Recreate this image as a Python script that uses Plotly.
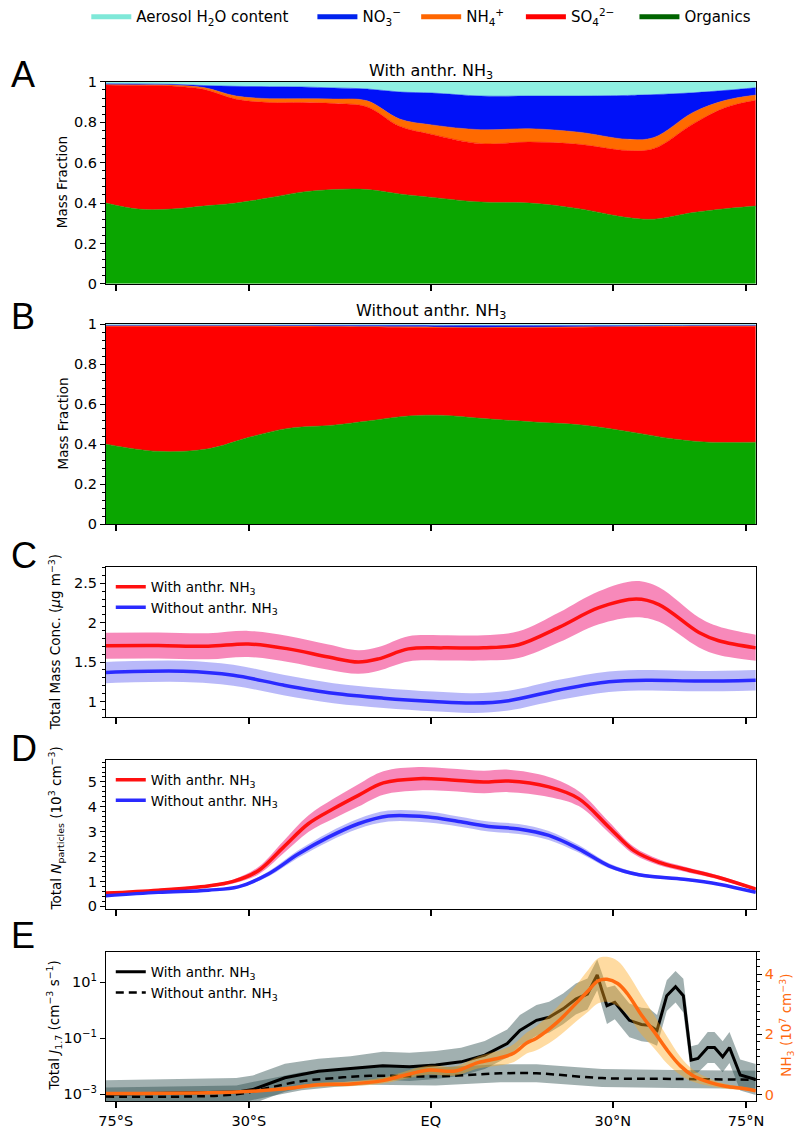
import plotly.graph_objects as go

W, H = 802, 1133

# ---------------- axis ticks (normalised position along the latitude axis) ----------------
xtick_vals = [-0.97, -0.56, 0.0, 0.56, 0.97]
xtick_text = ["75°S", "30°S", "EQ", "30°N", "75°N"]

# ---------------- Panel A : with anthropogenic NH3 (mass fractions) ----------------
xA = [-1.0, -0.901, -0.798, -0.699, -0.599, -0.497, -0.398, -0.298, -0.196, -0.096,
      0.003, 0.154, 0.304, 0.455, 0.605, 0.687, 0.807, 0.907, 1.0]
A_org = [0.400, 0.370, 0.370, 0.385, 0.400, 0.426, 0.454, 0.467, 0.467, 0.445,
         0.428, 0.405, 0.400, 0.372, 0.328, 0.320, 0.353, 0.372, 0.385]
A_so4 = [0.584, 0.612, 0.610, 0.578, 0.514, 0.472, 0.444, 0.426, 0.409, 0.335,
         0.312, 0.289, 0.302, 0.319, 0.332, 0.350, 0.439, 0.501, 0.524]
A_nh4 = [0.003, 0.004, 0.005, 0.009, 0.016, 0.019, 0.019, 0.022, 0.030, 0.036,
         0.047, 0.069, 0.066, 0.060, 0.056, 0.055, 0.057, 0.036, 0.026]
A_no3 = [0.004, 0.004, 0.003, 0.010, 0.048, 0.059, 0.058, 0.055, 0.059, 0.134,
         0.158, 0.167, 0.162, 0.179, 0.217, 0.212, 0.097, 0.049, 0.036]
A_h2o = [0.009, 0.010, 0.012, 0.018, 0.022, 0.024, 0.025, 0.030, 0.035, 0.050,
         0.055, 0.070, 0.070, 0.070, 0.067, 0.063, 0.054, 0.042, 0.029]

# ---------------- Panel B : without anthropogenic NH3 ----------------
xB = [-1.0, -0.840, -0.684, -0.560, -0.440, -0.301, -0.193, -0.069, 0.039, 0.163,
      0.316, 0.470, 0.623, 0.747, 0.855, 1.0]
B_org = [0.400, 0.364, 0.377, 0.434, 0.479, 0.495, 0.516, 0.541, 0.544, 0.528,
         0.511, 0.495, 0.459, 0.426, 0.410, 0.410]
B_so4 = [0.590, 0.626, 0.613, 0.556, 0.510, 0.493, 0.470, 0.443, 0.438, 0.453,
         0.471, 0.490, 0.528, 0.563, 0.580, 0.580]
B_nh4 = [0.002, 0.002, 0.002, 0.002, 0.002, 0.002, 0.003, 0.003, 0.003, 0.003,
         0.003, 0.002, 0.002, 0.002, 0.002, 0.002]
B_no3 = [0.003, 0.003, 0.003, 0.003, 0.004, 0.005, 0.006, 0.008, 0.009, 0.009,
         0.008, 0.006, 0.004, 0.003, 0.003, 0.003]
B_h2o = [0.005, 0.005, 0.005, 0.005, 0.005, 0.005, 0.005, 0.005, 0.006, 0.007,
         0.007, 0.007, 0.007, 0.006, 0.005, 0.005]

# ---------------- Panel C : total mass concentration (ug m-3) ----------------
xC_with = [-1.0, -0.839, -0.685, -0.562, -0.439, -0.315, -0.223, -0.161, -0.069, 0.039,
           0.162, 0.270, 0.394, 0.517, 0.632, 0.702, 0.825, 0.886, 1.0]
C_with = [1.708, 1.710, 1.700, 1.730, 1.667, 1.563, 1.500, 1.540, 1.667, 1.680,
          1.680, 1.720, 1.940, 2.190, 2.300, 2.230, 1.875, 1.770, 1.680]
C_with_err = [0.165, 0.165, 0.165, 0.165, 0.165, 0.160, 0.150, 0.150, 0.160, 0.160,
              0.160, 0.170, 0.190, 0.210, 0.230, 0.220, 0.190, 0.180, 0.165]
xC_wo = [-1.0, -0.762, -0.608, -0.454, -0.300, -0.146, 0.008, 0.132, 0.239, 0.394,
         0.548, 0.671, 0.825, 1.0]
C_wo = [1.367, 1.383, 1.333, 1.208, 1.104, 1.042, 1.000, 0.980, 1.010, 1.146,
        1.250, 1.270, 1.258, 1.270]
C_wo_err = [0.135, 0.135, 0.133, 0.130, 0.128, 0.125, 0.125, 0.125, 0.125, 0.128,
            0.130, 0.130, 0.130, 0.130]

# ---------------- Panel D : total particle number (10^3 cm-3) ----------------
xD_with = [-1.0, -0.839, -0.685, -0.608, -0.531, -0.454, -0.377, -0.300, -0.223, -0.146,
           -0.038, 0.055, 0.162, 0.239, 0.363, 0.455, 0.548, 0.625, 0.702, 0.779, 0.886, 1.0]
D_with = [0.53, 0.65, 0.82, 1.00, 1.43, 2.37, 3.32, 3.92, 4.46, 4.96,
          5.13, 5.09, 5.00, 5.04, 4.80, 4.33, 3.18, 2.24, 1.77, 1.50, 1.16, 0.69]
D_with_err = [0.05, 0.05, 0.06, 0.08, 0.15, 0.25, 0.33, 0.40, 0.45, 0.47,
              0.47, 0.45, 0.45, 0.45, 0.40, 0.30, 0.22, 0.15, 0.12, 0.10, 0.08, 0.05]
xD_wo = [-1.0, -0.839, -0.685, -0.593, -0.500, -0.408, -0.315, -0.223, -0.131, -0.008,
         0.085, 0.178, 0.270, 0.363, 0.455, 0.548, 0.640, 0.779, 0.886, 1.0]
D_wo = [0.42, 0.56, 0.65, 0.78, 1.30, 2.10, 2.78, 3.32, 3.63, 3.59,
        3.41, 3.21, 3.11, 2.85, 2.31, 1.63, 1.27, 1.09, 0.89, 0.56]
D_wo_err = [0.03, 0.03, 0.04, 0.05, 0.10, 0.15, 0.18, 0.20, 0.22, 0.22,
            0.20, 0.20, 0.20, 0.18, 0.15, 0.10, 0.07, 0.05, 0.04, 0.03]

# ---------------- Panel E : nucleation rate J1.7 (log10 cm-3 s-1) and NH3 ----------------
xE_with = [-1.0, -0.798, -0.599, -0.548, -0.449, -0.346, -0.247, -0.148, -0.066, 0.015,
           0.093, 0.166, 0.235, 0.274, 0.325, 0.364, 0.407, 0.446, 0.482, 0.512,
           0.527, 0.542, 0.566, 0.587, 0.611, 0.648, 0.672, 0.696, 0.726, 0.753,
           0.777, 0.801, 0.822, 0.852, 0.873, 0.898, 0.919, 0.952, 0.994, 1.0]
E_with_log = [-3.00, -2.96, -2.92, -2.83, -2.41, -2.18, -2.09, -1.98, -2.02, -1.95,
              -1.84, -1.60, -1.19, -0.72, -0.36, -0.25, 0.05, 0.40, 0.58, 1.26,
              0.69, 0.16, 0.28, -0.01, -0.36, -0.51, -0.54, -0.72, 0.52, 0.84,
              0.52, -1.78, -1.72, -1.33, -1.33, -1.66, -1.33, -2.31, -2.46, -2.47]
E_with_spread = [0.50, 0.50, 0.50, 0.50, 0.50, 0.45, 0.45, 0.50, 0.50, 0.50,
                 0.50, 0.50, 0.50, 0.55, 0.55, 0.55, 0.55, 0.55, 0.55, 0.55,
                 0.60, 0.65, 0.60, 0.60, 0.60, 0.60, 0.60, 0.55, 0.55, 0.56,
                 0.60, 0.50, 0.50, 0.55, 0.55, 0.55, 0.55, 0.55, 0.55, 0.55]
xE_wo = [-1.0, -0.599, -0.497, -0.398, -0.298, -0.187, 0.015, 0.214, 0.325, 0.527, 0.747, 1.0]
E_wo_log = [-3.08, -3.00, -2.76, -2.53, -2.42, -2.34, -2.36, -2.25, -2.25, -2.42, -2.45, -2.48]
E_wo_spread = [0.32, 0.32, 0.32, 0.32, 0.32, 0.32, 0.32, 0.32, 0.32, 0.32, 0.32, 0.32]
xE_nh3 = [-1.0, -0.599, -0.449, -0.346, -0.247, -0.148, -0.087, -0.006, 0.075, 0.145,
          0.214, 0.256, 0.295, 0.325, 0.386, 0.446, 0.485, 0.515, 0.542, 0.575,
          0.605, 0.648, 0.687, 0.726, 0.768, 0.807, 0.858, 0.907, 0.967, 1.0]
E_nh3 = [0.03, 0.08, 0.19, 0.32, 0.35, 0.46, 0.62, 0.81, 0.78, 1.06,
         1.22, 1.38, 1.71, 1.87, 2.37, 3.02, 3.46, 3.78, 3.83, 3.69,
         3.35, 2.64, 2.09, 1.49, 0.95, 0.62, 0.40, 0.27, 0.19, 0.12]
E_nh3_err = [0.02, 0.03, 0.05, 0.07, 0.08, 0.10, 0.12, 0.15, 0.15, 0.20,
             0.25, 0.30, 0.35, 0.40, 0.50, 0.60, 0.70, 0.75, 0.75, 0.75,
             0.70, 0.65, 0.55, 0.45, 0.30, 0.20, 0.12, 0.08, 0.05, 0.04]

# ---------------- styles ----------------
FONT = "DejaVu Sans"
species = [  # name, fill colour, legend colour
    ("Organics", "#0aa600", "#006400"),
    ("SO<sub>4</sub><sup>2−</sup>", "#fe0000", "#ff0000"),
    ("NH<sub>4</sub><sup>+</sup>", "#ff6a00", "#ff6600"),
    ("NO<sub>3</sub><sup>−</sup>", "#0011f8", "#0022ee"),
    ("Aerosol H<sub>2</sub>O content", "#8ef0e2", "#7fe8d8"),
]
RED, BLUE = "#ff1010", "#2a2aff"
RED_BAND, BLUE_BAND = "rgba(240,40,130,0.55)", "rgba(70,70,240,0.38)"
GRAY_BAND = "rgba(47,79,79,0.45)"
NH3_COL, NH3_BAND = "#ff6a10", "rgba(255,170,30,0.42)"

fig = go.Figure()

# stacked mass fractions
for ax, xs, comps, grp in [("", xA, [A_org, A_so4, A_nh4, A_no3, A_h2o], "A"),
                           ("2", xB, [B_org, B_so4, B_nh4, B_no3, B_h2o], "B")]:
    for (name, fc, lc), vals in zip(species, comps):
        fig.add_trace(go.Scatter(x=xs, y=vals, stackgroup=grp, mode="lines",
                                 line=dict(width=0.5, color=fc, shape="spline"),
                                 fillcolor=fc, showlegend=False, hoverinfo="skip",
                                 xaxis="x" + ax, yaxis="y" + ax))

# legend-only entries for the top legend (order left -> right)
top_legend_ids = ["legend", "legend2", "legend3", "legend4", "legend5"]
for lid, (name, fc, lc) in zip(top_legend_ids, species[::-1]):
    fig.add_trace(go.Scatter(x=[None], y=[None], mode="lines", name=name,
                             line=dict(color=lc, width=5), legend=lid,
                             xaxis="x", yaxis="y"))


def band(x, y, err, color, xa, ya, shape="spline"):
    lo = [v - e for v, e in zip(y, err)]
    hi = [v + e for v, e in zip(y, err)]
    fig.add_trace(go.Scatter(x=x, y=lo, mode="lines", line=dict(width=0, shape=shape),
                             showlegend=False, hoverinfo="skip", xaxis=xa, yaxis=ya))
    fig.add_trace(go.Scatter(x=x, y=hi, mode="lines", line=dict(width=0, shape=shape),
                             fill="tonexty", fillcolor=color, showlegend=False,
                             hoverinfo="skip", xaxis=xa, yaxis=ya))


# Panel C
band(xC_with, C_with, C_with_err, RED_BAND, "x3", "y3")
band(xC_wo, C_wo, C_wo_err, BLUE_BAND, "x3", "y3")
fig.add_trace(go.Scatter(x=xC_with, y=C_with, mode="lines", name="With anthr. NH<sub>3</sub>",
                         line=dict(color=RED, width=3.5, shape="spline"), legend="legend6",
                         xaxis="x3", yaxis="y3"))
fig.add_trace(go.Scatter(x=xC_wo, y=C_wo, mode="lines", name="Without anthr. NH<sub>3</sub>",
                         line=dict(color=BLUE, width=3.5, shape="spline"), legend="legend6",
                         xaxis="x3", yaxis="y3"))

# Panel D
band(xD_with, D_with, D_with_err, RED_BAND, "x4", "y4")
band(xD_wo, D_wo, D_wo_err, BLUE_BAND, "x4", "y4")
fig.add_trace(go.Scatter(x=xD_with, y=D_with, mode="lines", name="With anthr. NH<sub>3</sub>",
                         line=dict(color=RED, width=3.5, shape="spline"), legend="legend7",
                         xaxis="x4", yaxis="y4"))
fig.add_trace(go.Scatter(x=xD_wo, y=D_wo, mode="lines", name="Without anthr. NH<sub>3</sub>",
                         line=dict(color=BLUE, width=3.5, shape="spline"), legend="legend7",
                         xaxis="x4", yaxis="y4"))

# Panel E (log J on left axis)
Jw = [10 ** v for v in E_with_log]
Jw_lo = [10 ** (v - s) for v, s in zip(E_with_log, E_with_spread)]
Jw_hi = [10 ** (v + s) for v, s in zip(E_with_log, E_with_spread)]
Jo = [10 ** v for v in E_wo_log]
Jo_lo = [10 ** (v - s) for v, s in zip(E_wo_log, E_wo_spread)]
Jo_hi = [10 ** (v + s) for v, s in zip(E_wo_log, E_wo_spread)]
for xs, lo, hi in [(xE_with, Jw_lo, Jw_hi), (xE_wo, Jo_lo, Jo_hi)]:
    fig.add_trace(go.Scatter(x=xs, y=lo, mode="lines", line=dict(width=0), showlegend=False,
                             hoverinfo="skip", xaxis="x5", yaxis="y5"))
    fig.add_trace(go.Scatter(x=xs, y=hi, mode="lines", line=dict(width=0), fill="tonexty",
                             fillcolor=GRAY_BAND, showlegend=False, hoverinfo="skip",
                             xaxis="x5", yaxis="y5"))
fig.add_trace(go.Scatter(x=xE_with, y=Jw, mode="lines", name="With anthr. NH<sub>3</sub>",
                         line=dict(color="black", width=3), legend="legend8",
                         xaxis="x5", yaxis="y5"))
fig.add_trace(go.Scatter(x=xE_wo, y=Jo, mode="lines", name="Without anthr. NH<sub>3</sub>",
                         line=dict(color="black", width=2.5, dash="8px,5px", shape="spline"),
                         legend="legend8", xaxis="x5", yaxis="y5"))
# NH3 on right axis
band(xE_nh3, E_nh3, E_nh3_err, NH3_BAND, "x5", "y6")
fig.add_trace(go.Scatter(x=xE_nh3, y=E_nh3, mode="lines", showlegend=False,
                         line=dict(color=NH3_COL, width=3.5, shape="spline"),
                         xaxis="x5", yaxis="y6"))


# ---------------- layout ----------------
def ydom(top, bot):
    return [1 - bot / H, 1 - top / H]


xdom = [100 / W, 764 / W]
tickfont = dict(family=FONT, size=14.5, color="black")


def xax(anchor, labels=False):
    return dict(domain=xdom, range=[-1, 1], anchor=anchor, tickmode="array",
                tickvals=xtick_vals, ticktext=xtick_text, showticklabels=labels,
                ticks="outside", ticklen=6, tickwidth=1.6, tickcolor="black",
                showline=True, linecolor="black", linewidth=1, mirror=True,
                showgrid=False, zeroline=False, tickfont=tickfont)


def yax(anchor, dom, rng, tickvals, ticktext, minor_dtick, **kw):
    d = dict(domain=dom, range=rng, anchor=anchor, tickmode="array", tickvals=tickvals,
             ticktext=ticktext, ticks="outside", ticklen=5, tickwidth=1.2, tickcolor="black",
             showline=True, linecolor="black", linewidth=1, mirror=True, showgrid=False,
             zeroline=False, tickfont=tickfont)
    if minor_dtick is not None:
        d["minor"] = dict(ticks="outside", ticklen=3, tickwidth=1, tickcolor="black",
                          dtick=minor_dtick, showgrid=False)
    d.update(kw)
    return d


frac_ticks = [0, 0.2, 0.4, 0.6, 0.8, 1]
frac_text = ["0", "0.2", "0.4", "0.6", "0.8", "1"]

legend_common = dict(bgcolor="rgba(0,0,0,0)", borderwidth=0,
                     font=dict(family=FONT, size=13.5, color="black"))
top_leg_x = [80, 311, 417, 524, 640]
legends = {}
for lid, xpx in zip(top_legend_ids, top_leg_x):
    legends[lid] = dict(x=xpx / W, y=1 - 8 / H, xanchor="left", yanchor="middle",
                        orientation="h", itemwidth=40, bgcolor="rgba(0,0,0,0)", borderwidth=0,
                        font=dict(family=FONT, size=15, color="black"))
legends["legend6"] = dict(x=105 / W, y=1 - 571 / H, xanchor="left", yanchor="top",
                          tracegroupgap=0, **legend_common)
legends["legend7"] = dict(x=105 / W, y=1 - 767 / H, xanchor="left", yanchor="top",
                          tracegroupgap=0, **legend_common)
legends["legend8"] = dict(x=105 / W, y=1 - 962 / H, xanchor="left", yanchor="top",
                          tracegroupgap=0, **legend_common)

fig.update_layout(
    width=W, height=H, margin=dict(l=0, r=0, t=0, b=0),
    paper_bgcolor="white", plot_bgcolor="white",
    font=dict(family=FONT, color="black"),
    xaxis=xax("y"), xaxis2=xax("y2"), xaxis3=xax("y3"), xaxis4=xax("y4"),
    xaxis5=xax("y5", labels=True),
    yaxis=yax("x", ydom(74, 279), [0, 1], frac_ticks, frac_text, 0.04),
    yaxis2=yax("x2", ydom(320, 523), [0, 1], frac_ticks, frac_text, 0.04),
    yaxis3=yax("x3", ydom(567, 719), [0.8, 2.7], [1, 1.5, 2, 2.5], ["1", "1.5", "2", "2.5"], 0.1),
    yaxis4=yax("x4", ydom(762, 914), [-0.12, 5.9], [0, 1, 2, 3, 4, 5],
               ["0", "1", "2", "3", "4", "5"], 0.2),
    yaxis5=yax("x5", ydom(957, 1109), [-3.25, 2.09], [1e-3, 1e-1, 1e1],
               ["10<sup>−3</sup>", "10<sup>−1</sup>", "10<sup>1</sup>"], None, type="log"),
    yaxis6=dict(domain=ydom(957, 1109), range=[-0.23, 4.75], anchor="x5", overlaying="y5",
                side="right", tickmode="array", tickvals=[0, 2, 4], ticktext=["0", "2", "4"],
                ticks="outside", ticklen=5, tickwidth=1.2, tickcolor="black",
                showline=False, showgrid=False, zeroline=False,
                tickfont=dict(family=FONT, size=14.5, color=NH3_COL),
                minor=dict(ticks="outside", ticklen=3, tickwidth=1, tickcolor="black",
                           dtick=0.25, showgrid=False)),
    **legends,
)

# ---------------- annotations ----------------
ann = []
for letter, ypx in [("A", 66), ("B", 312), ("C", 555), ("D", 751), ("E", 941)]:
    ann.append(dict(text=letter, x=1 / W, y=1 - ypx / H, xref="paper", yref="paper",
                    xanchor="left", yanchor="middle", showarrow=False,
                    font=dict(family="Liberation Sans", size=36, color="black")))
for t, ypx in [("With anthr. NH<sub>3</sub>", 63), ("Without anthr. NH<sub>3</sub>", 307)]:
    ann.append(dict(text=t, x=432 / W, y=1 - ypx / H, xref="paper", yref="paper",
                    xanchor="center", yanchor="middle", showarrow=False,
                    font=dict(family=FONT, size=16, color="black")))
ytitles = [
    ("Mass Fraction", 56, 176, "black"),
    ("Mass Fraction", 56, 421, "black"),
    ("Total Mass Conc. (<i>μ</i>g m<sup>−3</sup>)", 48, 643, "black"),
    ("Total <i>N</i><sub>particles</sub> (10<sup>3</sup> cm<sup>−3</sup>)", 49, 832, "black"),
    ("Total <i>J</i><sub>1.7</sub> (cm<sup>−3</sup> s<sup>−1</sup>)", 47, 1032, "black"),
    ("NH<sub>3</sub> (10<sup>7</sup> cm<sup>−3</sup>)", 795, 1032, NH3_COL),
]
for t, xpx, ypx, col in ytitles:
    ann.append(dict(text=t, x=xpx / W, y=1 - ypx / H, xref="paper", yref="paper",
                    xanchor="center", yanchor="middle", textangle=-90, showarrow=False,
                    font=dict(family=FONT, size=13.5, color=col)))
fig.update_layout(annotations=ann)

fig.write_html("out.html")
